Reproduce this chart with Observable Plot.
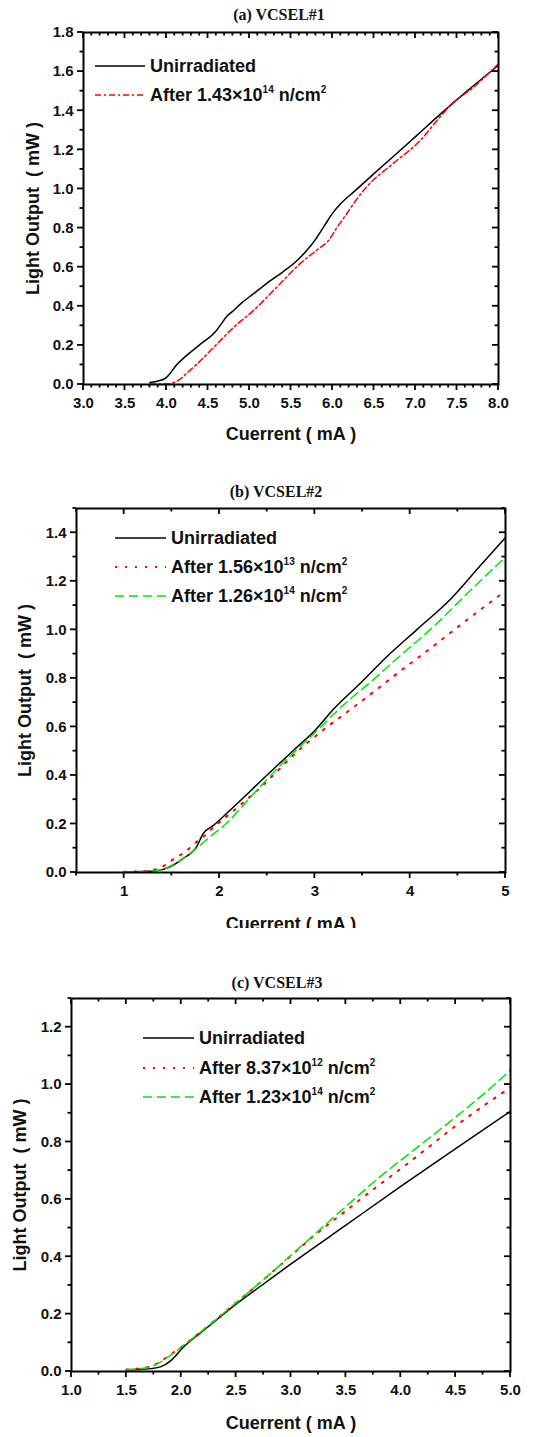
<!DOCTYPE html>
<html>
<head>
<meta charset="utf-8">
<script src="https://cdn.jsdelivr.net/npm/d3@7"></script>
<script src="https://cdn.jsdelivr.net/npm/@observablehq/plot@0.6"></script>
<style>
  html, body { margin: 0; padding: 0; background: white; }
  #root { position: relative; width: 547px; height: 1437px; overflow: hidden; background: white; font-family: "Liberation Sans", Arial, sans-serif; }
  .title { position: absolute; font-family: "Liberation Serif", "Times New Roman", serif; font-weight: bold; font-size: 16px; transform: translate(-50%, -50%); white-space: nowrap; color: #111; }
  .pan { position: absolute; left: 0; width: 547px; overflow: hidden; }
  .ovl { position: absolute; left: 0; top: 0; pointer-events: none; }
  .leg { position: absolute; display: flex; align-items: center; font-weight: bold; font-size: 18px; color: #111; white-space: nowrap; height: 24px; }
  .leg svg { display: block; margin-right: 5px; }
  .leg sup { font-size: 10px; vertical-align: 8px; line-height: 0; }
</style>
</head>
<body>
<div id="root"></div>
<script>
// ---------- data ----------
// Panel (a) VCSEL#1
const aUnirrI = [3.80, 3.90, 3.99, 4.05, 4.12, 4.22, 4.42, 4.60, 4.66, 4.73, 4.80, 4.90, 5.05, 5.20, 5.40, 5.55, 5.70, 5.80, 5.90, 6.00, 6.10, 6.27, 6.53, 6.81, 7.02, 7.32, 7.62, 8.00];
const aUnirrP = [0.010, 0.018, 0.033, 0.060, 0.100, 0.140, 0.210, 0.275, 0.310, 0.350, 0.375, 0.415, 0.465, 0.515, 0.575, 0.625, 0.690, 0.745, 0.810, 0.875, 0.925, 0.990, 1.090, 1.195, 1.275, 1.390, 1.500, 1.633];
const aAfterI = [3.80, 3.90, 4.02, 4.10, 4.16, 4.25, 4.37, 4.61, 4.81, 5.05, 5.33, 5.61, 5.85, 5.95, 6.05, 6.15, 6.27, 6.41, 6.73, 7.06, 7.26, 7.42, 7.70, 8.00];
const aAfterP = [0.003, 0.002, 0.003, 0.012, 0.026, 0.060, 0.106, 0.208, 0.293, 0.379, 0.498, 0.618, 0.700, 0.735, 0.800, 0.860, 0.935, 1.010, 1.130, 1.249, 1.350, 1.428, 1.520, 1.640];

// Panel (b) VCSEL#2
const bUnirrI = [1.0, 1.2, 1.34, 1.48, 1.62, 1.76, 1.83, 1.94, 2.15, 2.50, 2.78, 2.99, 3.20, 3.48, 3.76, 4.07, 4.42, 4.73, 5.0];
const bUnirrP = [0.003, 0.004, 0.007, 0.023, 0.058, 0.106, 0.161, 0.195, 0.271, 0.402, 0.505, 0.581, 0.675, 0.781, 0.891, 1.001, 1.125, 1.262, 1.380];
const bLowI = [1.0, 1.2, 1.32, 1.43, 1.53, 1.64, 1.74, 1.85, 1.95, 2.05, 2.27, 2.46, 2.78, 3.09, 3.30, 3.51, 3.93, 4.25, 4.56, 5.0];
const bLowP = [0.003, 0.005, 0.012, 0.030, 0.058, 0.085, 0.120, 0.154, 0.191, 0.223, 0.295, 0.361, 0.485, 0.588, 0.650, 0.712, 0.840, 0.935, 1.030, 1.160];
const bHighI = [1.0, 1.2, 1.38, 1.50, 1.62, 1.76, 1.91, 2.08, 2.29, 2.50, 2.78, 2.99, 3.30, 3.60, 3.90, 4.25, 4.60, 5.0];
const bHighP = [0.003, 0.004, 0.010, 0.030, 0.058, 0.100, 0.150, 0.205, 0.295, 0.385, 0.495, 0.572, 0.690, 0.790, 0.895, 1.015, 1.150, 1.300];

// Panel (c) VCSEL#3
const cUnirrI = [1.5, 1.6, 1.72, 1.81, 1.90, 1.95, 2.0, 2.1, 2.2, 2.5, 2.75, 3.0, 3.5, 4.0, 4.5, 5.0];
const cUnirrP = [0.006, 0.007, 0.010, 0.016, 0.036, 0.055, 0.077, 0.112, 0.142, 0.235, 0.305, 0.375, 0.510, 0.645, 0.777, 0.907];
const cLowI = [1.5, 1.6, 1.72, 1.80, 1.87, 1.95, 2.0, 2.2, 2.5, 2.75, 3.0, 3.2, 3.5, 3.7, 3.89, 4.08, 4.28, 4.48, 4.77, 5.0];
const cLowP = [0.007, 0.010, 0.018, 0.032, 0.050, 0.072, 0.085, 0.145, 0.240, 0.320, 0.403, 0.470, 0.560, 0.620, 0.675, 0.730, 0.790, 0.850, 0.930, 0.990];
const cHighI = [1.5, 1.6, 1.72, 1.80, 1.87, 1.95, 2.0, 2.2, 2.5, 2.75, 3.0, 3.25, 3.5, 3.8, 4.13, 4.43, 4.84, 5.0];
const cHighP = [0.007, 0.009, 0.016, 0.030, 0.048, 0.070, 0.085, 0.145, 0.240, 0.320, 0.405, 0.490, 0.575, 0.675, 0.775, 0.865, 0.995, 1.050];

// Titles, labels, ticks
const panelTitles = ["(a) VCSEL#1", "(b) VCSEL#2", "(c) VCSEL#3"];
const xTitle = "Cuerrent ( mA )";
const yTitle = "Light Output  ( mW )";
const legendA = ["Unirradiated", "After 1.43×10<sup>14</sup> n/cm<sup>2</sup>"];
const legendB = ["Unirradiated", "After 1.56×10<sup>13</sup> n/cm<sup>2</sup>", "After 1.26×10<sup>14</sup> n/cm<sup>2</sup>"];
const legendC = ["Unirradiated", "After 8.37×10<sup>12</sup> n/cm<sup>2</sup>", "After 1.23×10<sup>14</sup> n/cm<sup>2</sup>"];

const aXMajor = [3.0, 3.5, 4.0, 4.5, 5.0, 5.5, 6.0, 6.5, 7.0, 7.5, 8.0];
const aYMajor = [0.0, 0.2, 0.4, 0.6, 0.8, 1.0, 1.2, 1.4, 1.6, 1.8];
const bXMajor = [1, 2, 3, 4, 5];
const bYMajor = [0.0, 0.2, 0.4, 0.6, 0.8, 1.0, 1.2, 1.4];
const cXMajor = [1.0, 1.5, 2.0, 2.5, 3.0, 3.5, 4.0, 4.5, 5.0];
const cYMajor = [0.0, 0.2, 0.4, 0.6, 0.8, 1.0, 1.2];

// ---------- styles ----------
const BLACK = "#000";
const RED = "#ff0000";
const GREEN = "#00e600";
const DASHDOT = "6,3,2,3";
const DOT = "2,8";
const DASH = "9,5";

const root = document.getElementById("root");

function rangeStep(a, b, s) {
  return d3.range(Math.round((b - a) / s) + 1).map(i => +(a + i * s).toFixed(4));
}

function panel(cfg) {
  const W = 547;
  const MAJ = 6, MIN = 3.5, TW = 1.8;
  const yf = d3.format(".1f");
  const marks = [];
  for (const s of cfg.series) {
    marks.push(Plot.line(d3.zip(s.I, s.P), {
      x: d => d[0], y: d => d[1], stroke: s.stroke, strokeWidth: s.width || 1.5,
      strokeDasharray: s.dash || null, curve: "monotone-x"
    }));
  }
  marks.push(
    Plot.axisX(cfg.xMajor, {anchor: "bottom", tickSize: 0, tickPadding: 13, tickFormat: cfg.xFmt, label: null}),
    Plot.axisY(cfg.yMajor, {anchor: "left", tickSize: 0, tickPadding: 10, tickFormat: yf, label: null}),
    Plot.frame({stroke: "black", strokeWidth: 2}),
    Plot.text([xTitle], {text: d => d, frameAnchor: "bottom", textAnchor: "middle", dy: cfg.xTitleDy, fontSize: 18, fontWeight: "bold", fill: "#111"}),
    Plot.text([yTitle], {text: d => d, frameAnchor: "left", textAnchor: "middle", dx: -cfg.yTitleDx, rotate: -90, fontSize: 18, fontWeight: "bold", fill: "#111"})
  );

  const svg = Plot.plot({
    width: W, height: cfg.height,
    marginTop: cfg.mt, marginBottom: cfg.mb, marginLeft: cfg.ml, marginRight: cfg.mr,
    x: {domain: cfg.xDomain},
    y: {domain: cfg.yDomain},
    marks
  });
  svg.style.fontFamily = '"Liberation Sans", Arial, sans-serif';
  svg.style.fontSize = "15px";
  svg.style.fontWeight = "bold";
  svg.style.color = "#111";
  const wrap = document.createElement("div");
  wrap.className = "pan";
  wrap.style.top = cfg.top + "px";
  wrap.style.height = cfg.height + "px";
  wrap.appendChild(svg);
  root.appendChild(wrap);

  // Tick marks: overlay SVG positioned through Plot's own x and y scales
  const sx = svg.scale("x"), sy = svg.scale("y");
  const fx = v => sx.apply(v), fy = v => sy.apply(v);
  const top = cfg.mt, bot = cfg.height - cfg.mb, left = cfg.ml, right = W - cfg.mr;
  const ov = d3.create("svg").attr("class", "ovl").attr("width", W).attr("height", cfg.height)
    .style("top", cfg.top + "px").style("position", "absolute").style("left", "0px");
  const g = ov.append("g").attr("stroke", "black").attr("stroke-width", TW).attr("fill", "none");
  const majX = new Set(cfg.xMajor.map(v => +v.toFixed(4)));
  const majY = new Set(cfg.yMajor.map(v => +v.toFixed(4)));
  for (const v of cfg.xMinor) {
    const len = majX.has(v) ? MAJ : MIN;
    const x = fx(v);
    g.append("line").attr("x1", x).attr("x2", x).attr("y1", bot).attr("y2", bot + len);
    g.append("line").attr("x1", x).attr("x2", x).attr("y1", top).attr("y2", top + len);
  }
  for (const v of cfg.xMajor) {
    if (cfg.xMinor.includes(+v.toFixed(4))) continue;
    const x = fx(v);
    g.append("line").attr("x1", x).attr("x2", x).attr("y1", bot).attr("y2", bot + MAJ);
    g.append("line").attr("x1", x).attr("x2", x).attr("y1", top).attr("y2", top + MAJ);
  }
  for (const v of cfg.yMinor) {
    const len = majY.has(v) ? MAJ : MIN;
    const y = fy(v);
    g.append("line").attr("x1", left - len).attr("x2", left).attr("y1", y).attr("y2", y);
    g.append("line").attr("x1", right - len).attr("x2", right).attr("y1", y).attr("y2", y);
  }
  root.appendChild(ov.node());

  const t = document.createElement("div");
  t.className = "title";
  t.textContent = cfg.title;
  t.style.left = cfg.titleX + "px";
  t.style.top = cfg.titleY + "px";
  root.appendChild(t);

  cfg.legend.forEach((lab, i) => {
    const s = cfg.series[i];
    const row = document.createElement("div");
    row.className = "leg";
    row.style.left = cfg.legX + "px";
    row.style.top = (cfg.legY[i] - 12) + "px";
    const w = cfg.legW;
    row.innerHTML = `<svg width="${w}" height="10"><line x1="0" x2="${w}" y1="5" y2="5" stroke="${s.stroke}" stroke-width="${s.width || 1.5}" ${s.dash ? `stroke-dasharray="${s.dash}"` : ""}/></svg><span>${lab}</span>`;
    root.appendChild(row);
  });
}

panel({
  title: panelTitles[0], titleX: 279, titleY: 15,
  top: 24, height: 430, mt: 8, mb: 70, ml: 83, mr: 49,
  xDomain: [3, 8], yDomain: [0, 1.8],
  xMajor: aXMajor, xMinor: rangeStep(3, 8, 0.1), xFmt: d3.format(".1f"),
  yMajor: aYMajor, yMinor: rangeStep(0, 1.8, 0.1),
  xTitleDy: 55, yTitleDx: 50,
  series: [
    {I: aUnirrI, P: aUnirrP, stroke: BLACK},
    {I: aAfterI, P: aAfterP, stroke: RED, dash: DASHDOT}
  ],
  legend: legendA, legX: 95, legY: [66, 95], legW: 50
});

panel({
  title: panelTitles[1], titleX: 276, titleY: 492,
  top: 500, height: 428, mt: 8, mb: 56, ml: 76, mr: 42,
  xDomain: [0.5, 5], yDomain: [0, 1.5],
  xMajor: bXMajor, xMinor: rangeStep(0.5, 5, 0.5), xFmt: d3.format("d"),
  yMajor: bYMajor, yMinor: rangeStep(0, 1.5, 0.1),
  xTitleDy: 57, yTitleDx: 51,
  series: [
    {I: bUnirrI, P: bUnirrP, stroke: BLACK},
    {I: bLowI, P: bLowP, stroke: RED, dash: DOT, width: 2},
    {I: bHighI, P: bHighP, stroke: GREEN, dash: DASH}
  ],
  legend: legendB, legX: 115, legY: [538, 567, 596], legW: 51
});

panel({
  title: panelTitles[2], titleX: 277, titleY: 983,
  top: 990, height: 447, mt: 8, mb: 66, ml: 71, mr: 37,
  xDomain: [1, 5], yDomain: [0, 1.3],
  xMajor: cXMajor, xMinor: rangeStep(1, 5, 0.25), xFmt: d3.format(".1f"),
  yMajor: cYMajor, yMinor: rangeStep(0, 1.3, 0.1),
  xTitleDy: 57, yTitleDx: 51,
  series: [
    {I: cUnirrI, P: cUnirrP, stroke: BLACK},
    {I: cLowI, P: cLowP, stroke: RED, dash: DOT, width: 2},
    {I: cHighI, P: cHighP, stroke: GREEN, dash: DASH}
  ],
  legend: legendC, legX: 143, legY: [1038, 1068, 1097], legW: 51
});
</script>
</body>
</html>
